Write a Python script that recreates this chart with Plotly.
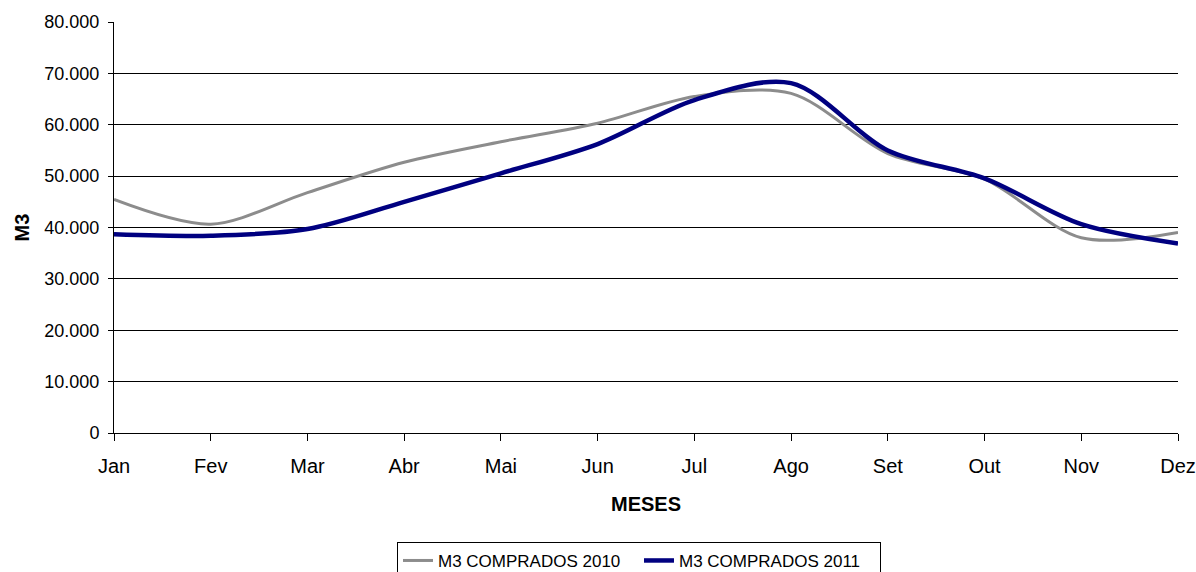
import plotly.graph_objects as go

# Monthly purchased volume (m³)
meses = ["Jan", "Fev", "Mar", "Abr", "Mai", "Jun", "Jul", "Ago", "Set", "Out", "Nov", "Dez"]
m3_2010 = [45450, 40650, 46800, 52700, 56700, 60300, 65500, 66100, 54400, 49400, 38000, 39050]
m3_2011 = [38700, 38400, 39700, 45000, 50550, 56250, 64800, 68100, 55000, 49550, 40650, 36900]

FONT = "Liberation Sans, Arial, sans-serif"

fig = go.Figure()
fig.add_trace(go.Scatter(
    x=meses, y=m3_2010, name="M3 COMPRADOS 2010", mode="lines",
    line=dict(color="#8c8c8c", width=3, shape="spline", smoothing=0.9),
))
fig.add_trace(go.Scatter(
    x=meses, y=m3_2011, name="M3 COMPRADOS 2011", mode="lines",
    line=dict(color="#000080", width=4.5, shape="spline", smoothing=0.9),
))

fig.update_layout(
    width=1196, height=572,
    margin=dict(l=114, r=18, t=22, b=139, autoexpand=False),
    paper_bgcolor="white", plot_bgcolor="white",
    separators=",.",
    font=dict(family=FONT, color="black"),
    showlegend=True,
    legend=dict(
        orientation="h", x=0.4934, xanchor="center", y=-0.265, yanchor="top",
        bordercolor="black", borderwidth=1, font=dict(size=17, family=FONT),
        itemwidth=30, tracegroupgap=0,
        entrywidth=196, entrywidthmode="pixels",
    ),
    xaxis=dict(
        type="category", range=[0, 11], automargin=False,
        showline=True, linecolor="black", linewidth=1,
        showgrid=False, ticks="outside", ticklen=7, tickcolor="black",
        ticklabelstandoff=8,
        tickfont=dict(size=20, family=FONT),
        title=dict(text="<b>MESES</b>", font=dict(size=20, family=FONT), standoff=20),
    ),
    # second axis only for the upper half of the crossing tick marks
    xaxis2=dict(
        overlaying="x", anchor="y", side="bottom", type="linear", range=[0, 11],
        tickmode="linear", tick0=0, dtick=1, ticks="inside", ticklen=5,
        tickcolor="black", showticklabels=False, showgrid=False,
        showline=False, zeroline=False, automargin=False,
    ),
    yaxis=dict(
        range=[0, 80000], dtick=10000, tickformat=",d", automargin=False,
        showline=True, linecolor="black", linewidth=1,
        showgrid=True, gridcolor="black", gridwidth=1, zeroline=False,
        ticks="outside", ticklen=5, tickcolor="black",
        ticklabelstandoff=5,
        tickfont=dict(size=18, family=FONT),
        title=dict(text="<b>M3</b>", font=dict(size=20, family=FONT), standoff=9),
    ),
)

fig.write_html("out.html")
